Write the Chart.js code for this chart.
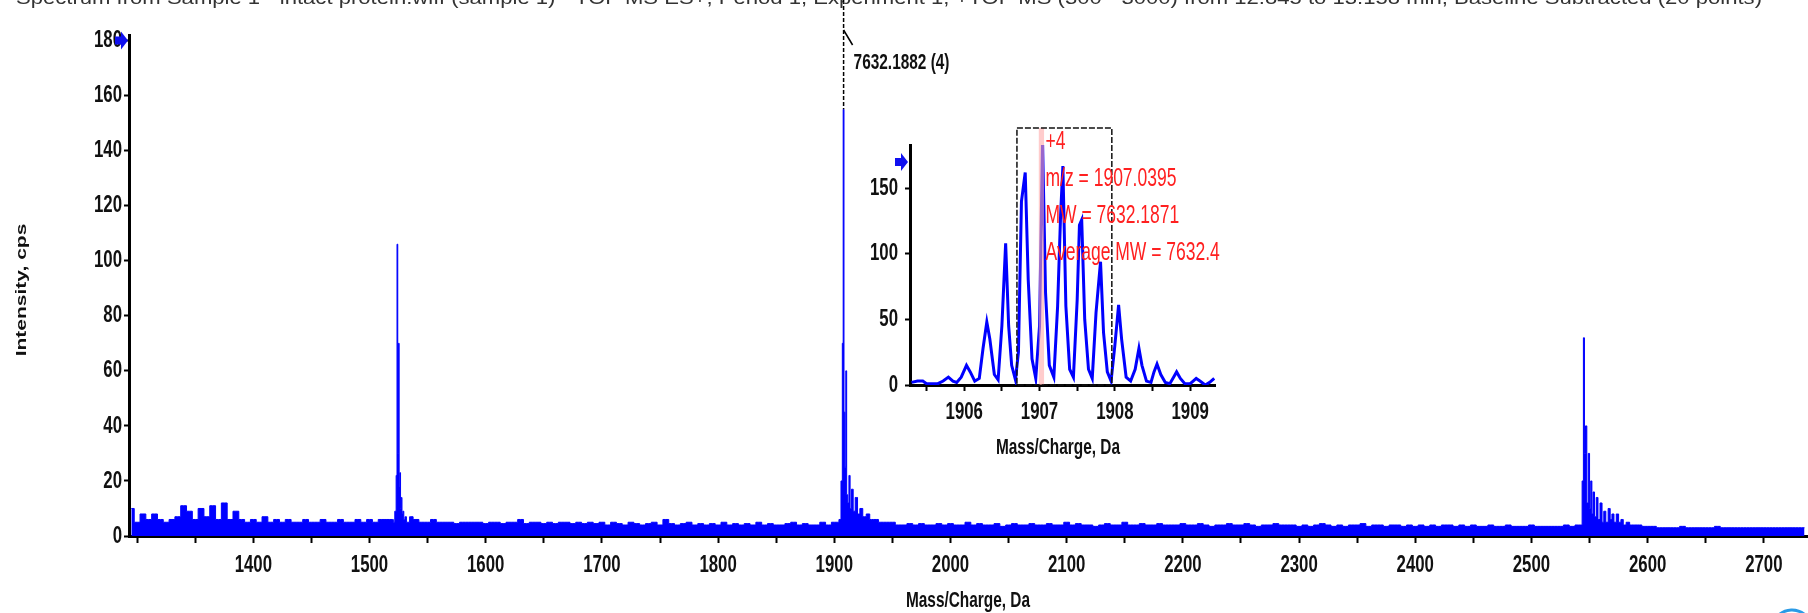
<!DOCTYPE html>
<html>
<head>
<meta charset="utf-8">
<script src="https://cdn.jsdelivr.net/npm/chart.js@4.4.1/dist/chart.umd.min.js"></script>
<style>
  html, body { margin: 0; padding: 0; background: #fff; }
  #wrap { position: relative; width: 1808px; height: 613px; overflow: hidden; }
  #main { position: absolute; left: 0; top: 0; }
  #inset { position: absolute; left: 850px; top: 110px; }
</style>
</head>
<body>
<div id="wrap">
  <canvas id="main" width="1808" height="613"></canvas>
  <canvas id="inset" width="380" height="360"></canvas>
</div>
<script>
// baseline noise, one value every 5 Da starting at 1295
var noiseStart = 1295;
var noiseStep = 5;
var noiseInt = [
  10,5,8,6,8,6,5,6,7,11,9,6,10,7,11,6,12,6,9,6,
  5,6,5,7,5,6,5,6,5,5,6,5,5,6,5,5,6,5,5,6,
  5,6,5,6,6,6,7,9,7,6,5,5,6,5,5,5,4.5,5,5,5,
  5,4.5,5,5,4.5,5,5,6,4.5,5,5,4.5,5,4.5,5,5,4.5,5,4.5,5,
  4.5,5,4,5,4.5,4,5,4.5,4,4.5,5,4,6,4.5,4,4.5,5,4,4.5,4,
  4.5,4,5,4,4.5,4,4.5,4,5,4,4.5,4,4,4.5,5,4,4.5,4,4,5,
  4,5,5,20,15,10,8,6,5,4,4,4,4.5,4,4.5,4,4.5,4,4,4.5,
  4,4.5,4,4,5,4,4.5,4,4,4.5,3.5,4,4.5,4,4,4.5,4,4,4.5,4,
  4,5,4,4.5,4,4,3.5,4,4.5,4,4,5,4,4,4.5,4,4,4.5,4,4,
  4,4.5,4,4,4.5,4,3.5,4,4,4.5,4,4,4.5,4,3.5,4,4,4.5,4,4,
  4,3.5,4,3.5,4,4.5,4,3.5,4,3.5,4,4,4.5,3.5,4,4,3.5,4,4,3.5,
  4,3.5,4,3.5,4,3.5,4,4,3.5,4,3.5,4,3.5,3.5,4,3.5,3.5,4,3.5,3.5,
  3.5,4,3.5,3.5,3.5,3.5,3.5,4,3.5,4,4,10,14,10,8,6,5,4,4,3,
  3.5,3.5,3.5,3,3,3,3,3.5,3,3,3,3,3,3.5,3,3,3,3,3,3,
  3,3,3,3,3,3,3,3,3
];

// charge-state peak clusters (z = 5, 4, 3)
var peak1527Mz = [1521, 1522.5, 1523.3, 1524.0, 1524.6, 1525.2, 1525.8, 1526.4, 1527.0, 1527.6, 1528.3, 1529.0, 1530.0, 1531.0, 1532.5, 1534.0];
var peak1527Int = [5, 9, 22, 106, 30, 70, 18, 23, 10, 14, 8, 9, 6, 7, 5, 5];

var peak1908Mz = [1903, 1905, 1906.5, 1907.3, 1908.0, 1908.7, 1909.5, 1910.3, 1911.0, 1912.0, 1913.2, 1914.0, 1915.5, 1917, 1919, 1921, 1923, 1926, 1929, 1932, 1936, 1940, 1945, 1950, 1955, 1960];
var peak1908Int = [5, 6, 20, 70, 155, 45, 25, 60, 15, 12, 22, 10, 17, 9, 14, 8, 10, 7, 8, 6, 6, 5, 5, 5, 4, 4];

var peak2545Mz = [2541, 2543, 2544.2, 2545.2, 2546.0, 2547.0, 2548.3, 2549.5, 2550.5, 2551.5, 2552.5, 2553.5, 2555, 2556.5, 2558, 2560, 2561.5, 2563, 2565, 2567, 2568.5, 2570, 2572, 2574, 2576, 2578, 2580, 2583, 2586, 2589, 2593, 2597, 2600];
var peak2545Int = [4, 4, 20, 72, 30, 40, 12, 30, 10, 20, 8, 16, 7, 14, 6, 12, 5, 9, 5, 10, 6, 8, 5, 8, 5, 6, 4, 5, 4, 4, 4, 3.5, 3.5];

// zoomed isotope envelope of the 4+ ion
var insetMz = [1905.30,1905.38,1905.45,1905.50,1905.58,1905.65,1905.72,1905.79,1905.85,1905.90,1905.96,
  1906.03,1906.08,1906.14,1906.20,1906.25,1906.30,1906.34,1906.40,1906.45,1906.50,1906.55,1906.59,1906.63,1906.68,1906.72,1906.76,1906.81,1906.85,1906.90,1906.95,
  1907.00,1907.04,1907.08,1907.13,1907.19,1907.24,1907.28,1907.31,1907.35,1907.40,1907.45,1907.50,1907.53,1907.56,1907.60,1907.65,1907.70,1907.75,1907.81,1907.85,1907.90,1907.95,
  1908.00,1908.05,1908.09,1908.15,1908.21,1908.27,1908.32,1908.36,1908.42,1908.48,1908.52,1908.56,1908.61,1908.67,1908.73,1908.78,1908.82,1908.87,1908.93,
  1909.00,1909.04,1909.08,1909.13,1909.20,1909.26,1909.32];
var insetInt = [2,3,3,1,1,1,3,6,3,2,6,
  15,10,3,5,28,48,35,8,4,45,108,45,15,4,25,140,162,80,20,5,
  45,186,70,15,6,60,130,167,60,12,6,65,122,126,50,12,5,55,94,40,10,3,
  30,61,35,6,3,12,28,15,3,2,10,16,8,2,1,6,10,5,1,
  1,3,5,3,0,2,5];

var mainXLabels = [1400, 1500, 1600, 1700, 1800, 1900, 2000, 2100, 2200, 2300, 2400, 2500, 2600, 2700];
var mainYLabels = [0, 20, 40, 60, 80, 100, 120, 140, 160, 180];
var insetXLabels = [1906, 1907, 1908, 1909];
var insetYLabels = [0, 50, 100, 150];

var titleText = "Spectrum from Sample 1 - intact protein.wiff (sample 1) - TOF MS ES+, Period 1, Experiment 1, +TOF MS (300 - 3000) from 12.845 to 13.158 min, Baseline Subtracted (20 points)";
var peakLabel = "7632.1882 (4)";
var peakLabelMz = 1908.0;
var insetNotes = ["+4", "m/z = 1907.0395", "MW = 7632.1871", "Average MW = 7632.41"];

var FONT = "'Liberation Sans', Arial, sans-serif";
var SQUEEZE = 0.7;

function squeezedText(ctx, text, x, y, font, align, color, rotate) {
  ctx.save();
  ctx.font = font + " " + FONT;
  ctx.fillStyle = color;
  ctx.textAlign = align;
  ctx.textBaseline = "middle";
  ctx.translate(x, y);
  if (rotate) {
    ctx.rotate(-Math.PI / 2);
    ctx.scale(1, SQUEEZE);
  } else {
    ctx.scale(SQUEEZE, 1);
  }
  ctx.fillText(text, 0, 0);
  ctx.restore();
}

function blueArrow(ctx, tipX, cy) {
  ctx.save();
  ctx.fillStyle = "#1010f0";
  ctx.beginPath();
  ctx.moveTo(tipX - 14, cy - 4);
  ctx.lineTo(tipX - 8, cy - 4);
  ctx.lineTo(tipX - 8, cy - 9);
  ctx.lineTo(tipX - 1, cy);
  ctx.lineTo(tipX - 8, cy + 9);
  ctx.lineTo(tipX - 8, cy + 4);
  ctx.lineTo(tipX - 14, cy + 4);
  ctx.closePath();
  ctx.fill();
  ctx.restore();
}

// merge noise and peak clusters into one sorted profile
var clusters = [[peak1527Mz, peak1527Int], [peak1908Mz, peak1908Int], [peak2545Mz, peak2545Int]];
var mainPoints = [];
noiseInt.forEach(function (v, i) {
  var mz = noiseStart + i * noiseStep;
  var inside = clusters.some(function (c) {
    return mz >= c[0][0] && mz <= c[0][c[0].length - 1];
  });
  if (!inside) mainPoints.push({ x: mz, y: v });
});
clusters.forEach(function (c) {
  c[0].forEach(function (mz, i) { mainPoints.push({ x: mz, y: c[1][i] }); });
});
mainPoints.sort(function (a, b) { return a.x - b.x; });

var insetPoints = insetMz.map(function (mz, i) { return { x: mz, y: insetInt[i] }; });

var mainDecor = {
  id: "mainDecor",
  afterDraw: function (chart) {
    var ctx = chart.ctx;
    var xs = chart.scales.x;
    var ys = chart.scales.y;
    var area = chart.chartArea;

    mainXLabels.forEach(function (v) {
      squeezedText(ctx, String(v), xs.getPixelForValue(v), 565, "bold 24px", "center", "#111");
    });
    mainYLabels.forEach(function (v) {
      squeezedText(ctx, String(v), area.left - 7, ys.getPixelForValue(v), "bold 24px", "right", "#111");
    });
    squeezedText(ctx, "Intensity, cps", 22, 290, "bold 21px", "center", "#111", true);
    squeezedText(ctx, "Mass/Charge, Da", 968, 601, "bold 22px", "center", "#111");

    blueArrow(ctx, area.left, ys.getPixelForValue(180));

    // peak label with dashed marker line
    var px = xs.getPixelForValue(peakLabelMz);
    ctx.save();
    ctx.strokeStyle = "#000";
    ctx.lineWidth = 1.5;
    ctx.setLineDash([4, 2]);
    ctx.beginPath();
    ctx.moveTo(px, 0);
    ctx.lineTo(px, ys.getPixelForValue(155));
    ctx.stroke();
    ctx.setLineDash([]);
    ctx.beginPath();
    ctx.moveTo(px, 30);
    ctx.lineTo(px + 9, 45);
    ctx.stroke();
    ctx.restore();
    squeezedText(ctx, peakLabel, px + 10, 63, "bold 22px", "left", "#111");

    // run description, cut off at the top edge
    ctx.save();
    ctx.font = "18px " + FONT;
    var w = ctx.measureText(titleText).width;
    ctx.translate(16, 0);
    ctx.scale(1746 / w, 1);
    ctx.fillStyle = "#333";
    ctx.textBaseline = "alphabetic";
    ctx.fillText(titleText, 0, 4);
    ctx.restore();

    // corner logo remnant
    ctx.save();
    ctx.strokeStyle = "#2a9be6";
    ctx.lineWidth = 3;
    ctx.beginPath();
    ctx.arc(1792, 630, 20, -2.4, -0.6);
    ctx.stroke();
    ctx.restore();
  }
};

new Chart(document.getElementById("main"), {
  type: "line",
  data: {
    datasets: [{
      data: mainPoints,
      borderColor: "#0000ff",
      backgroundColor: "#0000ff",
      borderWidth: 1,
      pointRadius: 0,
      fill: "origin",
      stepped: "middle"
    }]
  },
  options: {
    responsive: false,
    animation: false,
    layout: { padding: { top: 35, left: 0, right: 0, bottom: 0 } },
    plugins: { legend: { display: false }, tooltip: { enabled: false } },
    scales: {
      x: {
        type: "linear",
        min: 1293,
        max: 2738,
        afterFit: function (s) { s.height = 77; },
        ticks: { display: false, stepSize: 50, includeBounds: false },
        grid: { drawOnChartArea: false, tickLength: 7, tickColor: "#000", tickWidth: 2 },
        border: { color: "#000", width: 3 }
      },
      y: {
        min: 0,
        max: 182,
        afterFit: function (s) { s.width = 129; },
        ticks: { display: false, stepSize: 20, includeBounds: false },
        grid: { drawOnChartArea: false, tickLength: 5, tickColor: "#000", tickWidth: 2 },
        border: { color: "#000", width: 3 }
      }
    }
  },
  plugins: [mainDecor]
});

var insetDecor = {
  id: "insetDecor",
  afterDatasetsDraw: function (chart) {
    var ctx = chart.ctx;
    var xs = chart.scales.x;
    var ys = chart.scales.y;
    var top = ys.getPixelForValue(196);
    var bottom = ys.getPixelForValue(0);

    // highlighted centroid band
    var b1 = xs.getPixelForValue(1906.99);
    var b2 = xs.getPixelForValue(1907.06);
    ctx.save();
    ctx.fillStyle = "rgba(255, 170, 170, 0.6)";
    ctx.fillRect(b1, top, b2 - b1, bottom - top);

    // dashed selection box
    var l = xs.getPixelForValue(1906.70);
    var r = xs.getPixelForValue(1907.96);
    ctx.strokeStyle = "#111";
    ctx.lineWidth = 1.5;
    ctx.setLineDash([6, 2]);
    ctx.strokeRect(l, top, r - l, bottom - top);
    ctx.restore();
  },
  afterDraw: function (chart) {
    var ctx = chart.ctx;
    var xs = chart.scales.x;
    var ys = chart.scales.y;
    var area = chart.chartArea;

    insetXLabels.forEach(function (v) {
      squeezedText(ctx, String(v), xs.getPixelForValue(v), 302, "bold 24px", "center", "#111");
    });
    insetYLabels.forEach(function (v) {
      squeezedText(ctx, String(v), area.left - 12, ys.getPixelForValue(v), "bold 24px", "right", "#111");
    });
    squeezedText(ctx, "Mass/Charge, Da", 208, 338, "bold 22px", "center", "#111");
    blueArrow(ctx, area.left - 1, area.top + 17);

    var tx = xs.getPixelForValue(1907.04) + 3;
    ctx.save();
    ctx.beginPath();
    ctx.rect(0, 0, 370, 360);
    ctx.clip();
    insetNotes.forEach(function (t, i) {
      squeezedText(ctx, t, tx, 32 + i * 37, "25px", "left", "#ff2020");
    });
    ctx.restore();
  }
};

new Chart(document.getElementById("inset"), {
  type: "line",
  data: {
    datasets: [{
      data: insetPoints,
      borderColor: "#0000ff",
      borderWidth: 3,
      pointRadius: 0,
      fill: false,
      tension: 0
    }]
  },
  options: {
    responsive: false,
    animation: false,
    layout: { padding: { top: 35, left: 0, right: 15, bottom: 0 } },
    plugins: { legend: { display: false }, tooltip: { enabled: false } },
    scales: {
      x: {
        type: "linear",
        min: 1905.28,
        max: 1909.33,
        afterFit: function (s) { s.height = 85; },
        ticks: { display: false, stepSize: 0.5, includeBounds: false },
        grid: { drawOnChartArea: false, tickLength: 6, tickColor: "#000", tickWidth: 2 },
        border: { color: "#000", width: 3 }
      },
      y: {
        min: 0,
        max: 183,
        afterFit: function (s) { s.width = 60; },
        ticks: { display: false, stepSize: 50, includeBounds: false },
        grid: { drawOnChartArea: false, tickLength: 5, tickColor: "#000", tickWidth: 2 },
        border: { color: "#000", width: 3 }
      }
    }
  },
  plugins: [insetDecor]
});
</script>
</body>
</html>
